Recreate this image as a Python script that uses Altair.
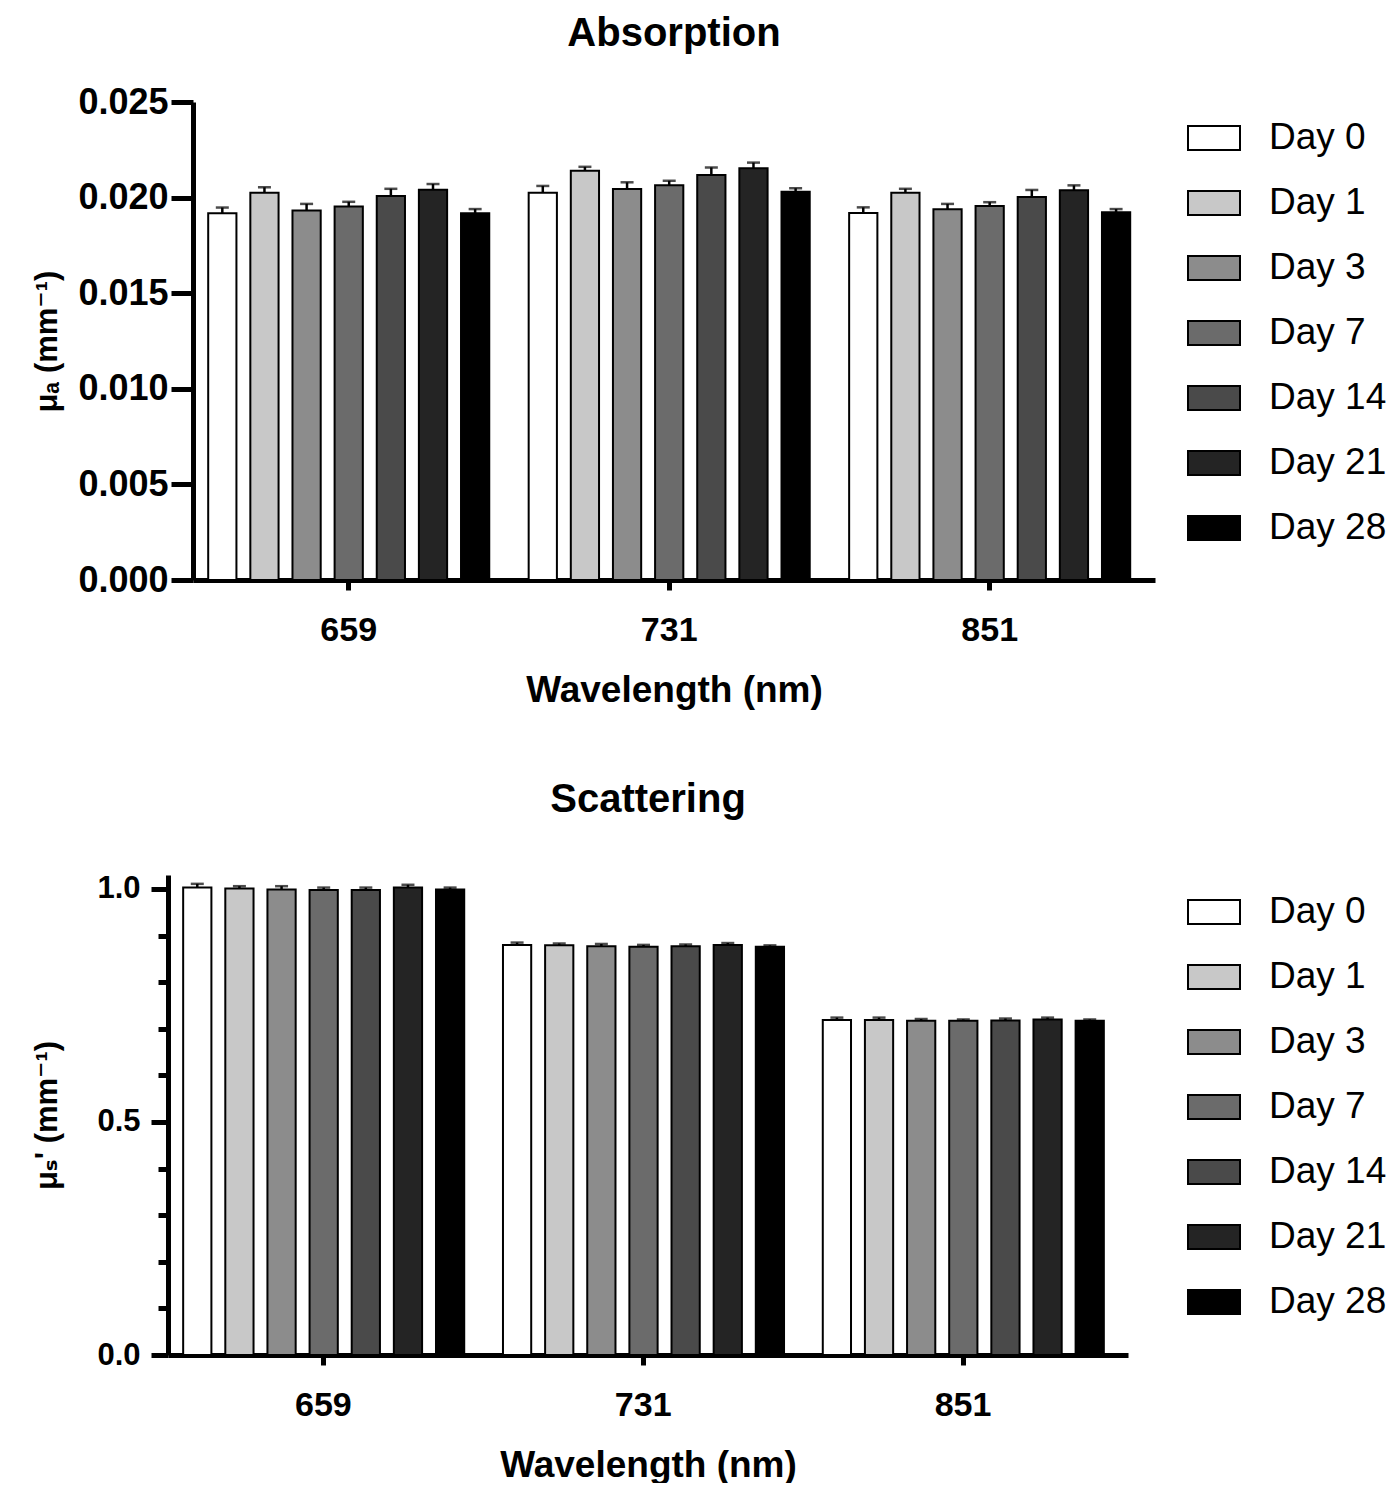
import altair as alt
import pandas as pd

wavelengths = ["659", "731", "851"]
days = ["Day 0", "Day 1", "Day 3", "Day 7", "Day 14", "Day 21", "Day 28"]
greys = ["#ffffff", "#c8c8c8", "#8c8c8c", "#6b6b6b", "#4a4a4a", "#242424", "#000000"]

# Absorption (mu_a, mm^-1): means and SEM per wavelength, Day 0..Day 28
mua_659 = [0.01918, 0.02026, 0.01932, 0.01954, 0.02008, 0.02041, 0.01918]
mua_659_err = [0.00030, 0.00028, 0.00035, 0.00024, 0.00038, 0.00030, 0.00022]
mua_731 = [0.02026, 0.02141, 0.02045, 0.02064, 0.02118, 0.02153, 0.02031]
mua_731_err = [0.00035, 0.00020, 0.00035, 0.00024, 0.00040, 0.00030, 0.00018]
mua_851 = [0.01919, 0.02026, 0.01939, 0.01956, 0.02003, 0.02038, 0.01923]
mua_851_err = [0.00030, 0.00020, 0.00028, 0.00020, 0.00037, 0.00026, 0.00017]

# Reduced scattering (mu_s', mm^-1)
mus_659 = [1.003, 1.001, 0.999, 0.998, 0.998, 1.003, 0.999]
mus_659_err = [0.008, 0.005, 0.007, 0.005, 0.005, 0.006, 0.004]
mus_731 = [0.880, 0.879, 0.877, 0.876, 0.877, 0.880, 0.876]
mus_731_err = [0.005, 0.004, 0.005, 0.004, 0.004, 0.004, 0.003]
mus_851 = [0.719, 0.719, 0.717, 0.717, 0.718, 0.720, 0.717]
mus_851_err = [0.005, 0.005, 0.004, 0.003, 0.004, 0.004, 0.003]

abs_ticks = [0.0, 0.005, 0.010, 0.015, 0.020, 0.025]
sca_ticks = [round(0.05 * i, 2) for i in range(21)]


def make_df(series):
    rows = []
    for wl, vals, errs in series:
        for d, v, e in zip(days, vals, errs):
            rows.append({"wl": wl, "day": d, "v": v, "hi": v + e})
    return pd.DataFrame(rows)


abs_df = make_df([("659", mua_659, mua_659_err), ("731", mua_731, mua_731_err), ("851", mua_851, mua_851_err)])
sca_df = make_df([("659", mus_659, mus_659_err), ("731", mus_731, mus_731_err), ("851", mus_851, mus_851_err)])

FONT = "Liberation Sans, Arial, DejaVu Sans"
RECT = "M-1,-0.46L1,-0.46L1,0.46L-1,0.46Z"


def panel(df, title, title_offset, ydomain, yaxis, w, h, legend_x, legend_y):
    base = alt.Chart(df).encode(
        x=alt.X(
            "wl:N",
            sort=wavelengths,
            scale=alt.Scale(paddingInner=0.123, paddingOuter=0.0624, align=0.38),
            axis=alt.Axis(
                title="Wavelength (nm)",
                labelAngle=0,
                tickSize=10,
                tickWidth=5,
                labelPadding=23,
                labelFontSize=34,
                titleFontSize=37,
                titlePadding=25,
            ),
        ),
        xOffset=alt.XOffset("day:N", sort=days, scale=alt.Scale(paddingInner=0.33, paddingOuter=0)),
    )
    bars = base.mark_bar(stroke="black", strokeWidth=2).encode(
        y=alt.Y("v:Q", scale=alt.Scale(domain=ydomain, nice=False, zero=True), axis=yaxis),
        color=alt.Color(
            "day:N",
            sort=days,
            scale=alt.Scale(domain=days, range=greys),
            legend=alt.Legend(
                title=None,
                orient="none",
                legendX=legend_x,
                legendY=legend_y,
                symbolType=RECT,
                symbolSize=2704,
                symbolStrokeColor="black",
                symbolStrokeWidth=2,
                symbolOpacity=1,
                labelFontSize=37,
                labelFont=FONT,
                labelColor="black",
                labelOffset=28,
                rowPadding=20,
            ),
        ),
    )
    rules = base.mark_rule(color="black", strokeWidth=2.5).encode(y="v:Q", y2="hi:Q")
    caps = base.mark_tick(color="black", size=13, thickness=2.5).encode(y="hi:Q")
    return alt.layer(bars, rules, caps).properties(
        width=w,
        height=h,
        title=alt.TitleParams(title, fontSize=40, font=FONT, fontWeight="bold", anchor="middle",
                              frame="group", offset=title_offset),
    )


def spacer():
    return (
        alt.Chart(pd.DataFrame({"s": [0]}))
        .mark_point(opacity=0)
        .encode(x=alt.value(0), y=alt.value(0))
        .properties(width=1, height=1)
    )


abs_axis = alt.Axis(
    title="μₐ (mm⁻¹)",
    values=abs_ticks,
    format=".3f",
    tickSize=22,
    tickWidth=5,
    labelPadding=3,
    labelFontSize=36,
    labelOverlap=False,
    titleFontSize=31,
    titlePadding=14,
)

MAJOR = "abs(datum.value*2 - round(datum.value*2)) < 0.001"
sca_axis = alt.Axis(
    title="μₛ' (mm⁻¹)",
    values=sca_ticks,
    labelExpr=MAJOR + " ? format(datum.value, '.1f') : ''",
    tickSize={"condition": {"test": MAJOR, "value": 17}, "value": 10},
    tickWidth=5,
    labelPadding=11,
    labelFontSize=31,
    labelOverlap=False,
    titleFontSize=31,
    titlePadding=33,
)

top = panel(abs_df, "Absorption", 30, [0, 0.025], abs_axis, 962, 478, 994, 9)
bottom = panel(sca_df, "Scattering", 53, [0, 1.03], sca_axis, 960, 480, 1019, 10)

top_row = alt.hconcat(spacer(), top, spacing=0).resolve_scale(color="independent")
bottom_row = alt.hconcat(spacer(), bottom, spacing=0).resolve_scale(color="independent")

chart = (
    alt.vconcat(top_row, bottom_row, spacing=71)
    .resolve_scale(color="independent", x="independent", y="independent")
    .configure_view(stroke=None)
    .configure_axis(
        grid=False,
        domainColor="black",
        domainWidth=5,
        tickColor="black",
        labelColor="black",
        titleColor="black",
        labelFont=FONT,
        titleFont=FONT,
        labelFontWeight="bold",
        titleFontWeight="bold",
    )
    .configure_title(color="black")
    .properties(padding={"left": 17, "top": 6, "right": 0, "bottom": 0})
)

chart.save("out.html", embed_options={"renderer": "svg", "actions": False})
